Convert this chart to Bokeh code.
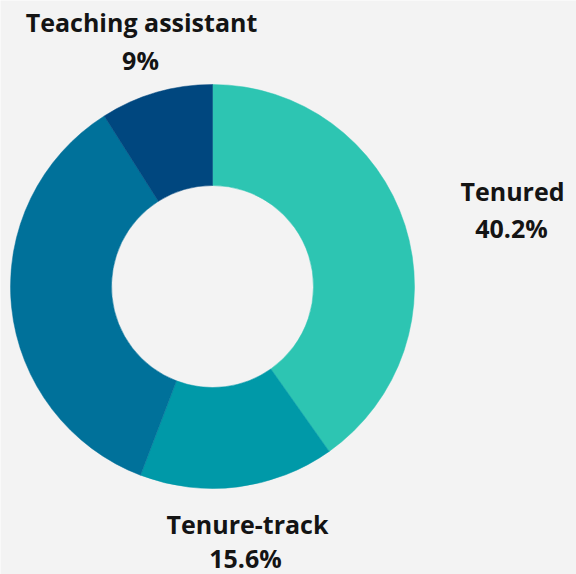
import numpy as np
from bokeh.plotting import figure
from bokeh.models import Range1d, ColumnDataSource
from bokeh.core.properties import value
from bokeh.embed import file_html
from bokeh.resources import INLINE

# Share of positions by category (percent)
categories = ["Tenured", "Tenure-track", "Other", "Teaching assistant"]
shares = [40.2, 15.6, 35.2, 9.0]
colors = ["#2DC5B2", "#0099A8", "#00719A", "#00477F"]
show_label = [True, True, False, True]

W, H = 576, 574
BG = "#F3F3F3"

p = figure(width=W, height=H, output_backend="svg", toolbar_location=None,
           x_range=Range1d(0, W), y_range=Range1d(0, H), min_border=0)
p.axis.visible = False
p.grid.visible = False
p.outline_line_color = None
p.background_fill_color = BG
p.border_fill_color = BG

# Donut geometry (screen pixels, y measured upward)
cx, cy = 212, H - 286
r_in, r_out = 101, 202

frac = np.array(shares) / sum(shares)
cum = np.concatenate([[0], np.cumsum(frac)])
start = np.pi / 2 - cum[:-1] * 2 * np.pi
end = np.pi / 2 - cum[1:] * 2 * np.pi

src = ColumnDataSource(dict(x=[cx] * len(shares), y=[cy] * len(shares),
                            start=start, end=end, color=colors, cat=categories))
p.annular_wedge(x="x", y="y", inner_radius=r_in, outer_radius=r_out,
                start_angle="start", end_angle="end", direction="clock",
                fill_color="color", line_color="color", line_width=0.5, source=src)

# Label placement: (name x, name centre, value x, value centre) in page pixels from top
label_pos = {
    "Tenured": (512, 190, 511, 227),
    "Tenure-track": (247, 523, 245, 557),
    "Teaching assistant": (141, 21, 140, 59),
}

names, nx, ny, vals, vx, vy = [], [], [], [], [], []
for cat, s, show in zip(categories, shares, show_label):
    if not show:
        continue
    a, b, c, d = label_pos[cat]
    names.append(cat); nx.append(a); ny.append(H - b)
    vals.append(f"{s:g}%"); vx.append(c); vy.append(H - d)

common = dict(text_font=value("Open Sans"), text_font_style="bold",
              text_font_size="25px", text_color="#141414",
              text_align="center", text_baseline="middle")
p.text(x=nx, y=ny, text=names, **common)
p.text(x=vx, y=vy, text=vals, **common)

open("out.html", "w").write(file_html(p, INLINE))
